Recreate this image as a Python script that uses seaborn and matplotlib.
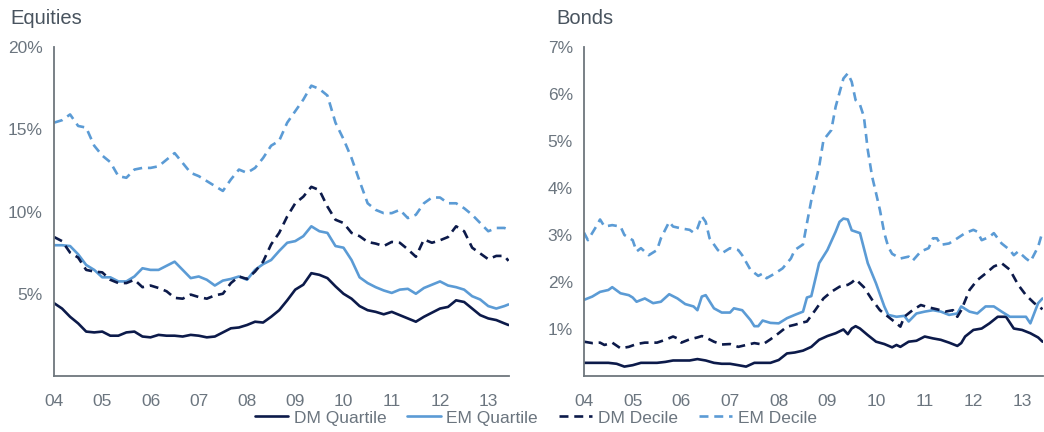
import numpy as np
import pandas as pd
import seaborn as sns
import matplotlib
matplotlib.use("Agg")
import matplotlib.pyplot as plt

# ---------------- data ----------------
# Equities: bi-monthly points, Jan 2004 .. May 2013, plus one last point
eq_t = list(2004 + np.arange(57) / 6.0) + [2013.42]

eq_dm_quartile = [4.43, 4.1, 3.6, 3.2, 2.7, 2.65,
                  2.7, 2.45, 2.45, 2.65, 2.7, 2.4,
                  2.35, 2.5, 2.45, 2.45, 2.4, 2.5,
                  2.45, 2.35, 2.4, 2.65, 2.9, 2.95,
                  3.1, 3.3, 3.25, 3.6, 4.0, 4.6,
                  5.25, 5.55, 6.25, 6.15, 5.95, 5.45,
                  5.0, 4.7, 4.25, 4.0, 3.9, 3.75,
                  3.9, 3.7, 3.5, 3.3, 3.6, 3.85,
                  4.1, 4.2, 4.6, 4.5, 4.1, 3.7,
                  3.5, 3.4, 3.2, 3.1]
eq_em_quartile = [7.95, 7.95, 7.9, 7.4, 6.75, 6.45,
                  6.0, 6.0, 5.75, 5.75, 6.05, 6.55,
                  6.45, 6.45, 6.7, 6.95, 6.45, 5.95,
                  6.05, 5.85, 5.5, 5.8, 5.9, 6.05,
                  5.85, 6.45, 6.8, 7.05, 7.6, 8.1,
                  8.2, 8.5, 9.1, 8.8, 8.7, 7.9,
                  7.8, 7.05, 6.0, 5.65, 5.4, 5.2,
                  5.05, 5.25, 5.3, 5.0, 5.35, 5.55,
                  5.75, 5.5, 5.4, 5.25, 4.85, 4.65,
                  4.25, 4.1, 4.25, 4.35]
eq_dm_decile = [8.45, 8.2, 7.5, 7.2, 6.45, 6.35,
                6.3, 5.85, 5.65, 5.65, 5.85, 5.4,
                5.5, 5.35, 5.15, 4.75, 4.7, 4.95,
                4.8, 4.7, 4.9, 5.0, 5.65, 6.05,
                5.9, 6.35, 6.95, 8.0, 8.7, 9.7,
                10.5, 10.9, 11.5, 11.3, 10.3, 9.5,
                9.3, 8.7, 8.5, 8.15, 8.05, 7.9,
                8.15, 8.1, 7.7, 7.25, 8.3, 8.1,
                8.25, 8.45, 9.1, 8.8, 7.8, 7.45,
                7.1, 7.3, 7.3, 7.0]
eq_em_decile = [15.4, 15.55, 15.9, 15.2, 15.1, 14.0,
                13.4, 13.0, 12.15, 12.05, 12.55, 12.65,
                12.65, 12.75, 13.15, 13.55, 12.95, 12.35,
                12.15, 11.85, 11.55, 11.25, 11.95, 12.55,
                12.35, 12.65, 13.25, 14.0, 14.3, 15.4,
                16.1, 16.8, 17.65, 17.45, 17.05, 15.4,
                14.4, 13.25, 11.85, 10.5, 10.1, 9.9,
                9.9, 10.1, 9.6, 9.8, 10.5, 10.85,
                10.85, 10.5, 10.5, 10.2, 9.8, 9.3,
                8.8, 9.0, 9.0, 8.9]

# Bonds: each series read at its own dates
bd_dmq_t = [2004.0, 2004.25, 2004.5, 2004.67, 2004.83, 2005.0, 2005.17, 2005.33,
            2005.5, 2005.67, 2005.83, 2006.0, 2006.17, 2006.33, 2006.5, 2006.67,
            2006.83, 2007.0, 2007.17, 2007.33, 2007.5, 2007.67, 2007.83, 2008.0,
            2008.17, 2008.33, 2008.5, 2008.67, 2008.83, 2009.0, 2009.17, 2009.33,
            2009.42, 2009.5, 2009.58, 2009.67, 2009.83, 2010.0, 2010.17, 2010.33,
            2010.42, 2010.5, 2010.67, 2010.83, 2011.0, 2011.17, 2011.33, 2011.5,
            2011.67, 2011.75, 2011.83, 2012.0, 2012.17, 2012.33, 2012.5, 2012.67,
            2012.83, 2013.0, 2013.17, 2013.33, 2013.42]
bd_dmq_v = [0.28, 0.28, 0.28, 0.26, 0.2, 0.23, 0.28, 0.28,
            0.28, 0.3, 0.33, 0.33, 0.33, 0.36, 0.33, 0.28,
            0.26, 0.26, 0.23, 0.2, 0.28, 0.28, 0.28, 0.34,
            0.48, 0.5, 0.54, 0.62, 0.77, 0.85, 0.91, 0.99,
            0.89, 1.01, 1.06, 1.01, 0.87, 0.73, 0.68, 0.61,
            0.66, 0.62, 0.73, 0.75, 0.84, 0.8, 0.77, 0.71,
            0.64, 0.7, 0.84, 0.98, 1.01, 1.12, 1.26, 1.26,
            1.01, 0.98, 0.91, 0.82, 0.73]

bd_emq_t = [2004.0, 2004.17, 2004.33, 2004.5, 2004.58, 2004.75, 2004.92, 2005.0,
            2005.08, 2005.25, 2005.42, 2005.58, 2005.75, 2005.92, 2006.08, 2006.25,
            2006.33, 2006.42, 2006.5, 2006.67, 2006.83, 2007.0, 2007.08, 2007.25,
            2007.42, 2007.5, 2007.58, 2007.67, 2007.83, 2008.0, 2008.17, 2008.33,
            2008.5, 2008.58, 2008.67, 2008.83, 2009.0, 2009.17, 2009.25, 2009.33,
            2009.42, 2009.5, 2009.67, 2009.83, 2010.0, 2010.17, 2010.25, 2010.42,
            2010.58, 2010.67, 2010.83, 2011.0, 2011.17, 2011.33, 2011.5, 2011.67,
            2011.75, 2011.92, 2012.08, 2012.25, 2012.42, 2012.58, 2012.75, 2012.92,
            2013.08, 2013.17, 2013.33, 2013.42]
bd_emq_v = [1.62, 1.69, 1.79, 1.83, 1.89, 1.76, 1.72, 1.67,
            1.58, 1.65, 1.55, 1.58, 1.74, 1.65, 1.53, 1.48,
            1.4, 1.69, 1.72, 1.44, 1.35, 1.35, 1.44, 1.4,
            1.19, 1.06, 1.06, 1.18, 1.13, 1.12, 1.23, 1.3,
            1.37, 1.67, 1.7, 2.4, 2.68, 3.07, 3.28, 3.35,
            3.33, 3.1, 3.04, 2.4, 1.97, 1.48, 1.3, 1.26,
            1.28, 1.16, 1.33, 1.37, 1.4, 1.37, 1.3, 1.33,
            1.48, 1.37, 1.33, 1.48, 1.48, 1.37, 1.26, 1.26,
            1.26, 1.12, 1.55, 1.65]

bd_dmd_t = [2004.0, 2004.17, 2004.33, 2004.42, 2004.58, 2004.75, 2004.92, 2005.08,
            2005.25, 2005.5, 2005.67, 2005.83, 2005.92, 2006.0, 2006.17, 2006.33,
            2006.42, 2006.5, 2006.67, 2006.83, 2007.0, 2007.17, 2007.33, 2007.5,
            2007.67, 2007.83, 2008.0, 2008.17, 2008.33, 2008.5, 2008.58, 2008.75,
            2008.92, 2009.08, 2009.25, 2009.42, 2009.5, 2009.58, 2009.75, 2009.92,
            2010.08, 2010.25, 2010.42, 2010.5, 2010.58, 2010.75, 2010.92, 2011.08,
            2011.25, 2011.42, 2011.58, 2011.67, 2011.75, 2011.92, 2012.08, 2012.25,
            2012.42, 2012.58, 2012.75, 2012.92, 2013.08, 2013.25, 2013.42]
bd_dmd_v = [0.73, 0.7, 0.71, 0.66, 0.71, 0.59, 0.62, 0.68,
            0.71, 0.71, 0.77, 0.84, 0.8, 0.71, 0.78, 0.82,
            0.85, 0.82, 0.73, 0.67, 0.68, 0.62, 0.66, 0.7,
            0.67, 0.78, 0.91, 1.05, 1.09, 1.14, 1.16, 1.4,
            1.65, 1.79, 1.9, 1.94, 1.99, 2.06, 1.89, 1.62,
            1.4, 1.26, 1.12, 1.05, 1.26, 1.4, 1.51, 1.46,
            1.42, 1.37, 1.4, 1.26, 1.4, 1.83, 2.04, 2.18,
            2.33, 2.4, 2.26, 1.94, 1.72, 1.55, 1.42]

bd_emd_t = [2004.0, 2004.08, 2004.25, 2004.33, 2004.42, 2004.58, 2004.75, 2004.83,
            2005.0, 2005.08, 2005.17, 2005.33, 2005.5, 2005.58, 2005.75, 2005.83,
            2006.0, 2006.17, 2006.25, 2006.33, 2006.42, 2006.5, 2006.58, 2006.75,
            2006.83, 2007.0, 2007.17, 2007.25, 2007.42, 2007.58, 2007.67, 2007.75,
            2007.92, 2008.08, 2008.25, 2008.33, 2008.5, 2008.58, 2008.67, 2008.83,
            2008.92, 2009.08, 2009.17, 2009.33, 2009.42, 2009.5, 2009.58, 2009.67,
            2009.75, 2009.83, 2009.92, 2010.0, 2010.08, 2010.17, 2010.25, 2010.33,
            2010.5, 2010.67, 2010.75, 2010.92, 2011.08, 2011.17, 2011.25, 2011.33,
            2011.5, 2011.67, 2011.83, 2012.0, 2012.08, 2012.17, 2012.33, 2012.42,
            2012.58, 2012.75, 2012.83, 2012.92, 2013.08, 2013.17, 2013.33, 2013.42]
bd_emd_v = [3.05, 2.89, 3.18, 3.33, 3.18, 3.21, 3.18, 3.0,
            2.89, 2.65, 2.72, 2.57, 2.68, 2.93, 3.28, 3.18,
            3.14, 3.11, 3.05, 3.14, 3.4, 3.28, 2.93, 2.68,
            2.61, 2.72, 2.68, 2.57, 2.26, 2.13, 2.18, 2.08,
            2.18, 2.29, 2.5, 2.68, 2.8, 3.25, 3.74, 4.45,
            5.02, 5.23, 5.73, 6.33, 6.44, 6.26, 5.87, 5.77,
            5.52, 4.81, 4.24, 3.89, 3.53, 3.04, 2.75, 2.6,
            2.5, 2.54, 2.45, 2.65, 2.72, 2.93, 2.93, 2.79,
            2.82, 2.93, 3.04, 3.11, 3.07, 2.89, 2.96, 3.04,
            2.82, 2.68, 2.57, 2.65, 2.5, 2.43, 2.75, 3.07]

years = list(range(2004, 2014))
year_labels = ["04", "05", "06", "07", "08", "09", "10", "11", "12", "13"]

# ---------------- style ----------------
sns.set_style("white")
plt.rcParams["font.family"] = ["Liberation Sans", "DejaVu Sans"]

DM = "#0c1a4a"
EM = "#5b9bd5"
SPINE = "#6e767d"
TICK = "#6b757f"
TITLE = "#48535e"
DASH = (0, (3.4, 2.2))

fig = plt.figure(figsize=(10.44, 4.32), dpi=100)
axL = fig.add_axes([54 / 1044, 1 - 376 / 432, 455 / 1044, 329 / 432])
axR = fig.add_axes([584 / 1044, 1 - 376 / 432, 459 / 1044, 329 / 432])


def draw_panel(ax, series, ylim, yticks):
    for t, v, color, ls, name in series:
        sns.lineplot(x=t, y=v, ax=ax, color=color, linewidth=1.9,
                     linestyle=ls, label=name)
    ax.set_xlim(2004, 2013.43)
    ax.set_ylim(*ylim)
    ax.set_xticks(years)
    ax.set_xticklabels(year_labels)
    ax.set_yticks(yticks)
    ax.set_yticklabels([f"{y}%" for y in yticks])
    ax.set_xlabel("")
    ax.set_ylabel("")
    for side in ["top", "right"]:
        ax.spines[side].set_visible(False)
    for side in ["left", "bottom"]:
        ax.spines[side].set_color(SPINE)
        ax.spines[side].set_linewidth(1.3)
    ax.tick_params(axis="both", length=0, labelsize=12.5, colors=TICK)
    ax.tick_params(axis="x", pad=13)
    ax.tick_params(axis="y", pad=8)
    if ax.get_legend() is not None:
        ax.get_legend().remove()


draw_panel(axL, [
    (eq_t, eq_dm_quartile, DM, "-", "DM Quartile"),
    (eq_t, eq_em_quartile, EM, "-", "EM Quartile"),
    (eq_t, eq_dm_decile, DM, DASH, "DM Decile"),
    (eq_t, eq_em_decile, EM, DASH, "EM Decile"),
], (0, 20), [5, 10, 15, 20])

draw_panel(axR, [
    (bd_dmq_t, bd_dmq_v, DM, "-", "DM Quartile"),
    (bd_emq_t, bd_emq_v, EM, "-", "EM Quartile"),
    (bd_dmd_t, bd_dmd_v, DM, DASH, "DM Decile"),
    (bd_emd_t, bd_emd_v, EM, DASH, "EM Decile"),
], (0, 7), [1, 2, 3, 4, 5, 6, 7])

fig.text(10 / 1044, 1 - 18 / 432, "Equities", fontsize=14.5, color=TITLE,
         va="center", ha="left")
fig.text(556 / 1044, 1 - 18 / 432, "Bonds", fontsize=14.5, color=TITLE,
         va="center", ha="left")

handles, labels = axL.get_legend_handles_labels()
fig.legend(handles, labels, loc="center", bbox_to_anchor=(0.513, 1 - 418 / 432),
           ncol=4, frameon=False, fontsize=12.5, handlelength=1.95,
           columnspacing=1.2, handletextpad=0.3, labelcolor=TICK)

fig.savefig("out.png", dpi=100)
